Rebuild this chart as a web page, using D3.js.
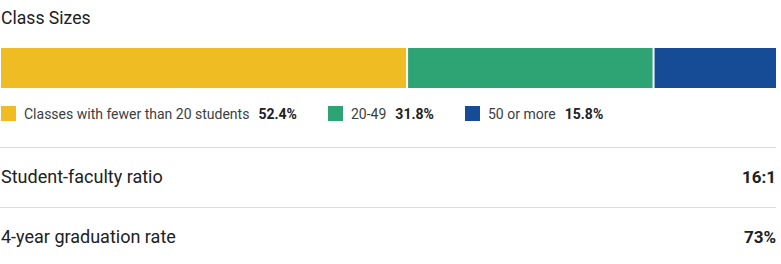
<!DOCTYPE html>
<html>
<head>
<meta charset="utf-8">
<script src="https://cdn.jsdelivr.net/npm/d3@7"></script>
<style>
  body { margin: 0; background: #fff; }
  svg { display: block; font-family: Roboto, "Noto Sans", sans-serif; }
</style>
</head>
<body>
<div id="chart"></div>
<script>
const categories = ["Classes with fewer than 20 students", "20-49", "50 or more"];
const shares = [52.4, 31.8, 15.8];
const segColors = ["#f0bc23", "#2ea373", "#164b96"];
const statLabels = ["Student-faculty ratio", "4-year graduation rate"];
const statValues = ["16:1", "73%"];

const W = 781, H = 264;
const left = 1, right = 776;

const svg = d3.select("#chart").append("svg")
    .attr("width", W)
    .attr("height", H);

// title
svg.append("text")
    .attr("x", 1)
    .attr("y", 24.3)
    .style("font-size", "17.6px")
    .attr("fill", "#202124")
    .text("Class Sizes");

// stacked bar
const x = d3.scaleLinear()
    .domain([0, d3.sum(shares)])
    .range([left, right]);

let acc = 0;
const segs = shares.map((v, i) => {
    const s = {i: i, x0: acc, x1: acc + v};
    acc += v;
    return s;
});

svg.selectAll("rect.seg")
    .data(segs)
    .enter()
    .append("rect")
    .attr("class", "seg")
    .attr("x", d => x(d.x0) + (d.i > 0 ? 1 : 0))
    .attr("y", 48)
    .attr("width", d => x(d.x1) - x(d.x0) - (d.i > 0 ? 1 : 0) - (d.i < segs.length - 1 ? 1 : 0))
    .attr("height", 40)
    .attr("fill", d => segColors[d.i]);

// legend
let lx = 1;
categories.forEach((c, i) => {
    const g = svg.append("g");
    g.append("rect")
        .attr("x", lx)
        .attr("y", 106)
        .attr("width", 15)
        .attr("height", 15)
        .attr("fill", segColors[i]);
    const t = g.append("text")
        .attr("x", lx + 23)
        .attr("y", 118.5)
        .style("font-size", "14px")
        .attr("fill", "#3c4043")
        .text(c);
    const tw = t.node().getComputedTextLength();
    const p = g.append("text")
        .attr("x", lx + 23 + tw + 9)
        .attr("y", 118.5)
        .style("font-size", "14px")
        .style("font-weight", "bold")
        .attr("fill", "#202124")
        .text(shares[i].toFixed(1) + "%");
    const pw = p.node().getComputedTextLength();
    lx = Math.round(lx + 23 + tw + 9 + pw + 31);
});

// stat rows
const rowY = d3.scaleBand()
    .domain(statLabels)
    .range([147.5, 267.5]);

const rows = svg.selectAll("g.row")
    .data(statLabels)
    .enter()
    .append("g")
    .attr("class", "row")
    .attr("transform", d => `translate(0,${rowY(d)})`);

rows.append("line")
    .attr("x1", 0)
    .attr("x2", right)
    .attr("y1", 0)
    .attr("y2", 0)
    .attr("stroke", "#dadce0")
    .attr("stroke-width", 1);

rows.append("text")
    .attr("x", 1)
    .attr("y", 35)
    .style("font-size", "18px")
    .attr("fill", "#202124")
    .text(d => d);

rows.append("text")
    .attr("x", right)
    .attr("y", 35)
    .attr("text-anchor", "end")
    .style("font-size", "17px")
    .style("font-weight", "bold")
    .attr("fill", "#202124")
    .text((d, i) => statValues[i]);
</script>
</body>
</html>
